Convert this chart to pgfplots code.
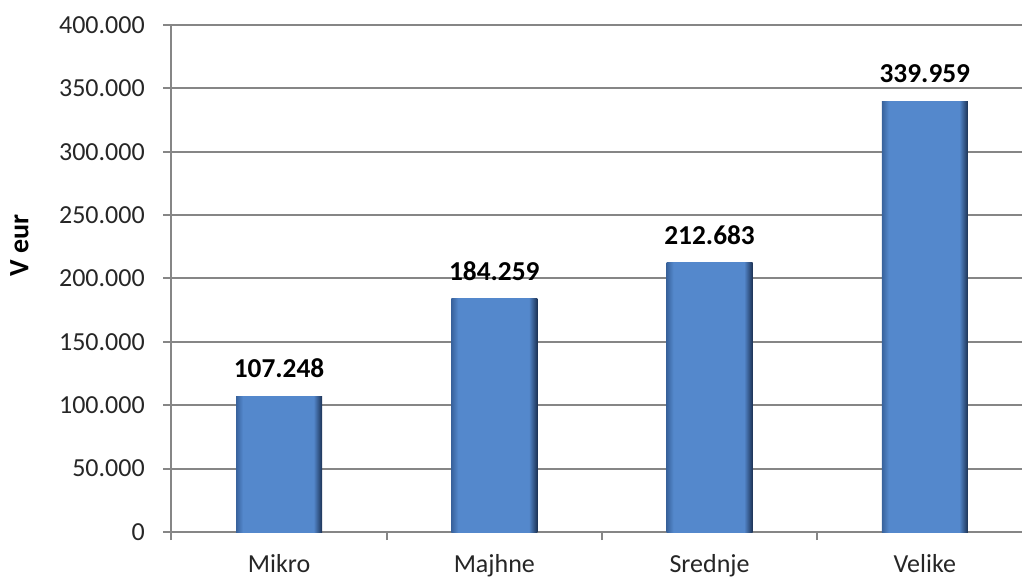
\documentclass[border=0pt]{standalone}
\usepackage{fontspec}
\setmainfont{Carlito}
\usepackage{pgfplots}
\pgfplotsset{compat=1.18}
\definecolor{barmain}{RGB}{84,136,204}
\definecolor{baredge}{RGB}{28,50,84}
\definecolor{barleft}{RGB}{56,98,156}
\definecolor{axgray}{RGB}{134,134,134}
% path covers 25bp..75bp of the shading
\pgfdeclarehorizontalshading{barbevel}{100bp}{color(0bp)=(barleft); color(25bp)=(barleft); color(29bp)=(barmain); color(70bp)=(barmain); color(75bp)=(baredge); color(100bp)=(baredge)}
\newcommand{\chartfont}{\fontsize{19.5}{23}\selectfont}
\newcommand{\valfont}{\fontsize{20.5}{24}\selectfont}
\begin{document}
\begin{tikzpicture}
% the original is cropped at the right, through the last category
\useasboundingbox (-128.6pt,-35.25pt) rectangle (637.9pt,399pt);
\clip (-128.6pt,-35.25pt) rectangle (637.9pt,399pt);
\begin{axis}[
  at={(0,0)}, anchor=south west,
  scale only axis, width=645.75pt, height=380.25pt,
  clip=false,
  ybar, bar width=0.4, bar shift=0pt,
  xmin=-0.5, xmax=3.5, ymin=0, ymax=400000,
  xtick={0,1,2,3}, xticklabels={Mikro,Majhne,Srednje,Velike},
  major x tick style={draw=none},
  minor xtick={-0.5,0.5,1.5,2.5,3.5},
  ytick={0,50000,...,400000},
  scaled y ticks=false,
  ymajorgrids, grid style={axgray, line width=1.5pt},
  axis x line*=bottom, axis y line*=left,
  axis line style={axgray, line width=1.5pt},
  tick style={axgray, line width=1.5pt},
  tick align=outside, major tick length=6pt, minor tick length=6pt,
  ticklabel style={font=\chartfont, text=black!85},
  yticklabel style={xshift=-10.5pt},
  xticklabel style={yshift=-7pt},
  ylabel={V eur},
  ylabel style={font=\bfseries\fontsize{21}{25}\selectfont, yshift=16pt, xshift=25pt},
  nodes near coords,
  every node near coord/.append style={font=\bfseries\valfont, black, yshift=10pt},
  /pgf/number format/fixed,
  /pgf/number format/precision=0,
  /pgf/number format/1000 sep={.},
  /pgf/number format/assume math mode=true,
]
\addplot[shade, shading=barbevel, draw=none] coordinates {(0,107248)};
\addplot[shade, shading=barbevel, draw=none] coordinates {(1,184259)};
\addplot[shade, shading=barbevel, draw=none] coordinates {(2,212683)};
\addplot[shade, shading=barbevel, draw=none] coordinates {(3,339959)};
\end{axis}
\end{tikzpicture}
\end{document}
